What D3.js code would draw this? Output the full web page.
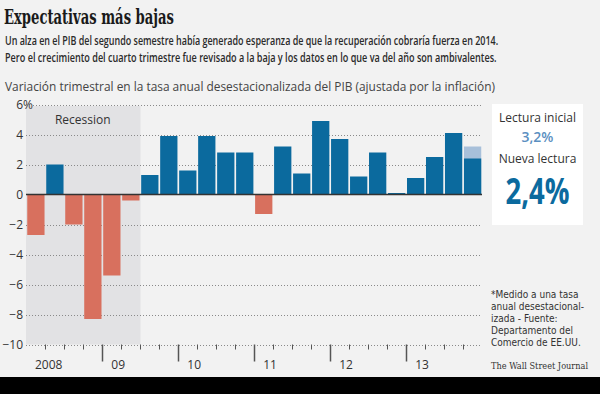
<!DOCTYPE html>
<html>
<head>
<meta charset="utf-8">
<script src="https://cdn.jsdelivr.net/npm/d3@7"></script>
<style>
  html, body { margin: 0; padding: 0; background: #f2f2f2; }
  svg { display: block; }
</style>
</head>
<body>
<svg id="chart" width="600" height="394"></svg>
<script>
// quarterly GDP change, 2008 Q1 .. 2013 Q4
const quarters = d3.range(24).map((i) => `${2008 + Math.floor(i / 4)}Q${(i % 4) + 1}`);
const gdp = [
  -2.7, 2.0, -2.0, -8.3,
  -5.4, -0.4, 1.3, 3.9,
  1.6, 3.9, 2.8, 2.8,
  -1.3, 3.2, 1.4, 4.9,
  3.7, 1.2, 2.8, 0.1,
  1.1, 2.5, 4.1, 2.4,
];
const initialReading = { quarter: "2013Q4", value: 3.2 };
const yearLabels = ["2008", "09", "10", "11", "12", "13"];
const yTicks = [6, 4, 2, 0, -2, -4, -6, -8, -10];
const recession = ["2008Q1", "2009Q2"];

const svg = d3.select("#chart");
const width = 600;
const height = 394;

const blue = "#0b6a9e";
const red = "#d8705e";
const lightBlue = "#a8c0da";

svg.append("rect").attr("width", width).attr("height", height).attr("fill", "#f2f2f2");

const xScale = d3
  .scaleBand()
  .domain(quarters)
  .range([26.5, 482])
  .paddingInner(0.09)
  .paddingOuter(0.04);

const yScale = d3.scaleLinear().domain([-10, 6]).range([344.5, 104.5]);

const left = 26;
const right = 482;

// recession shading
svg
  .append("rect")
  .attr("x", left)
  .attr("y", yScale(5.9))
  .attr("width", xScale(recession[1]) + xScale.bandwidth() + 1 - left)
  .attr("height", yScale(-10) - yScale(5.9))
  .attr("fill", "#e2e2e4");

svg
  .append("text")
  .attr("x", (left + xScale(recession[1]) + xScale.bandwidth()) / 2)
  .attr("y", 124)
  .attr("text-anchor", "middle")
  .attr("font-family", "Open Sans, sans-serif")
  .attr("font-size", 12)
  .attr("fill", "#333")
  .text("Recession");

// grid
svg
  .append("g")
  .selectAll("line")
  .data(yTicks.filter((d) => d !== 0))
  .enter()
  .append("line")
  .attr("x1", (d) => (d === 6 ? 33 : left))
  .attr("x2", right)
  .attr("y1", (d) => Math.round(yScale(d)) + 0.5)
  .attr("y2", (d) => Math.round(yScale(d)) + 0.5)
  .attr("stroke", "#8a8a8a")
  .attr("stroke-width", 1)
  .attr("stroke-dasharray", "1,2");

// y labels
const yLabels = svg.append("g").attr("font-family", "Open Sans, sans-serif").attr("font-size", 12).attr("fill", "#333");
yLabels
  .selectAll("text")
  .data(yTicks)
  .enter()
  .append("text")
  .attr("x", 23)
  .attr("y", (d) => yScale(d) + 4)
  .attr("text-anchor", "end")
  .text((d) => (d < 0 ? "\u2212" + Math.abs(d) : d));
yLabels
  .append("text")
  .attr("x", 23)
  .attr("y", yScale(6) + 4)
  .text("%");

// initial reading (behind the revised bar)
svg
  .append("rect")
  .attr("x", xScale(initialReading.quarter))
  .attr("width", xScale.bandwidth())
  .attr("y", yScale(initialReading.value))
  .attr("height", yScale(0) - yScale(initialReading.value))
  .attr("fill", lightBlue);

// bars
svg
  .append("g")
  .selectAll("rect")
  .data(gdp)
  .enter()
  .append("rect")
  .attr("x", (d, i) => xScale(quarters[i]))
  .attr("width", xScale.bandwidth())
  .attr("y", (d) => yScale(Math.max(0, d)))
  .attr("height", (d) => Math.abs(yScale(d) - yScale(0)))
  .attr("fill", (d) => (d < 0 ? red : blue));

// zero line
svg
  .append("line")
  .attr("x1", left)
  .attr("x2", right)
  .attr("y1", yScale(0))
  .attr("y2", yScale(0))
  .attr("stroke", "#333")
  .attr("stroke-width", 1.3);

// x ticks
const bottom = yScale(-10);
const step = xScale.step();
const boundaries = d3.range(1, 24).map((i) => xScale(quarters[i]) - (step - xScale.bandwidth()) / 2);
svg
  .append("g")
  .selectAll("line")
  .data(boundaries)
  .enter()
  .append("line")
  .attr("x1", (d) => Math.round(d) + 0.5)
  .attr("x2", (d) => Math.round(d) + 0.5)
  .attr("y1", bottom)
  .attr("y2", (d, i) => ((i + 1) % 4 === 0 ? bottom + 17 : bottom + 5))
  .attr("stroke", "#555")
  .attr("stroke-width", (d, i) => ((i + 1) % 4 === 0 ? 1.5 : 1));

svg
  .append("g")
  .selectAll("text")
  .data(yearLabels)
  .enter()
  .append("text")
  .attr("x", (d, i) => (i === 0 ? left : boundaries[i * 4 - 1]) + 9)
  .attr("y", 369)
  .attr("font-family", "Open Sans, sans-serif")
  .attr("font-size", 12)
  .attr("fill", "#333")
  .text((d) => d);

// title and texts
svg
  .append("text")
  .attr("x", 4)
  .attr("y", 24)
  .attr("font-family", "DejaVu Serif Condensed, DejaVu Serif, serif")
  .attr("font-weight", "bold")
  .attr("font-size", 21)
  .attr("fill", "#1a1a1a")
  .attr("textLength", 170)
  .attr("lengthAdjust", "spacingAndGlyphs")
  .text("Expectativas más bajas");

const intro = [
  "Un alza en el PIB del segundo semestre había generado esperanza de que la recuperación cobraría fuerza en 2014.",
  "Pero el crecimiento del cuarto trimestre fue revisado a la baja y los datos en lo que va del año son ambivalentes.",
];
const introWidths = [494, 492];

// no narrow newspaper face here, so squeeze each line horizontally
intro.forEach((line, i) => {
  const t = svg
    .append("text")
    .attr("font-family", "Open Sans, sans-serif")
    .attr("font-weight", 600)
    .attr("font-size", 12.5)
    .attr("fill", "#2a2a2a")
    .text(line);
  const natural = t.node().getComputedTextLength();
  t.attr("transform", `translate(5, ${45 + i * 17}) scale(${introWidths[i] / natural}, 1)`);
});

svg
  .append("text")
  .attr("x", 5)
  .attr("y", 91)
  .attr("font-family", "Open Sans, sans-serif")
  .attr("font-size", 13.5)
  .attr("fill", "#444")
  .attr("textLength", 490)
  .attr("lengthAdjust", "spacingAndGlyphs")
  .text("Variación trimestral en la tasa anual desestacionalizada del PIB (ajustada por la inflación)");

// reading box
svg
  .append("rect")
  .attr("x", 492)
  .attr("y", 104)
  .attr("width", 91)
  .attr("height", 121)
  .attr("fill", "#ffffff");

const box = svg.append("g").attr("font-family", "Open Sans, sans-serif").attr("text-anchor", "middle");
box.append("text").attr("x", 537.5).attr("y", 122).attr("font-size", 12).attr("fill", "#333").text("Lectura inicial");
box
  .append("text")
  .attr("x", 537.5)
  .attr("y", 142)
  .attr("font-size", 14)
  .attr("font-weight", 600)
  .attr("fill", "#5b8fc1")
  .text(String(initialReading.value).replace(".", ",") + "%");
box.append("text").attr("x", 537.5).attr("y", 163).attr("font-size", 12).attr("fill", "#333").text("Nueva lectura");
box
  .append("text")
  .attr("x", 537.5)
  .attr("y", 204)
  .attr("font-size", 35)
  .attr("font-weight", 700)
  .attr("fill", blue)
  .attr("textLength", 64)
  .attr("lengthAdjust", "spacingAndGlyphs")
  .text(String(gdp[gdp.length - 1]).replace(".", ",") + "%");

// footnote
const note = ["*Medido a una tasa", "anual desestacional-", "izada - Fuente:", "Departamento del", "Comercio de EE.UU."];
svg
  .append("g")
  .selectAll("text")
  .data(note)
  .enter()
  .append("text")
  .attr("x", 491)
  .attr("y", (d, i) => 298 + i * 12)
  .attr("font-family", "Liberation Sans Narrow, DejaVu Sans Condensed, sans-serif")
  .attr("font-size", 10)
  .attr("fill", "#333")
  .text((d) => d);

svg
  .append("text")
  .attr("x", 491)
  .attr("y", 369)
  .attr("font-family", "DejaVu Serif Condensed, serif")
  .attr("font-size", 10)
  .attr("fill", "#333")
  .attr("textLength", 97)
  .attr("lengthAdjust", "spacingAndGlyphs")
  .text("The Wall Street Journal");

// bottom black band
svg.append("rect").attr("x", 0).attr("y", 377).attr("width", width).attr("height", height - 377).attr("fill", "#000");
</script>
</body>
</html>
